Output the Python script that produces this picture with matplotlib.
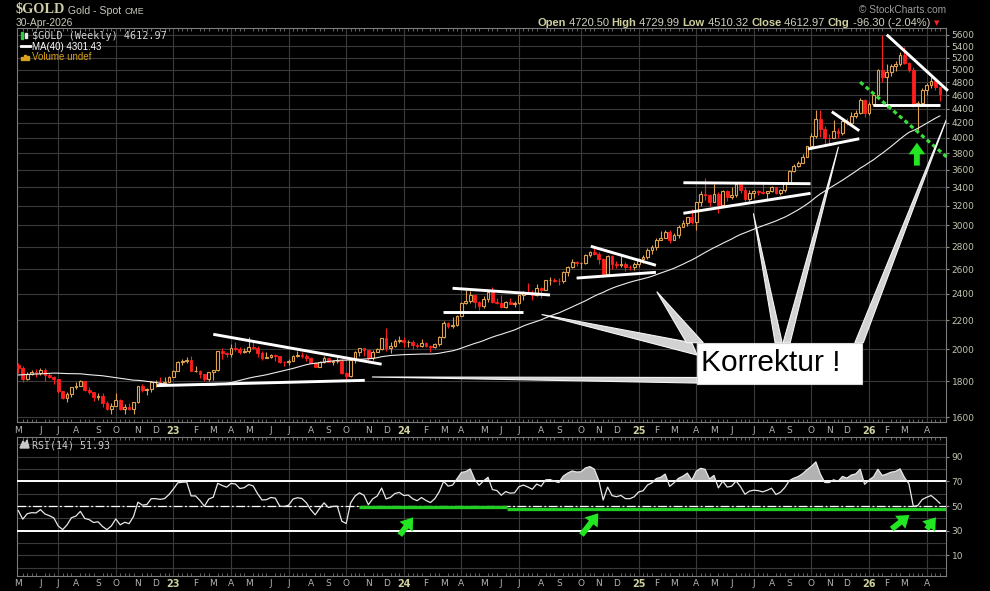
import numpy as np
import pandas as pd
import matplotlib
matplotlib.use('Agg')
import matplotlib.pyplot as plt
from matplotlib.patches import Rectangle, Polygon
from matplotlib.lines import Line2D
from matplotlib.ticker import NullFormatter, NullLocator, FixedLocator

plt.rcParams['font.family'] = ['DejaVu Sans']

W, H = 990, 591

# weekly bars (week starting monday)
week_start = '2022-05-02'
first_open = 1896

# closes Jul 2021 - Apr 2022, only used to warm up MA(40) and RSI(14)
pre_close = [1814, 1763, 1780, 1781, 1817, 1827, 1788, 1754, 1750, 1761,
             1757, 1768, 1793, 1783, 1818, 1864, 1846, 1788, 1783, 1782,
             1798, 1809, 1829, 1797, 1818, 1835, 1791, 1808, 1859, 1898,
             1889, 1966, 1988, 1921, 1958, 1925, 1946, 1974, 1931, 1896]

close = [1883, 1811, 1846, 1853, 1851, 1871, 1840, 1827, 1811, 1742,
         1703, 1727, 1766, 1775, 1802, 1747, 1737, 1712, 1716, 1675,
         1644, 1661, 1695, 1644, 1657, 1645, 1681, 1771, 1751, 1755,
         1797, 1797, 1793, 1798, 1824, 1865, 1920, 1926, 1928, 1865,
         1865, 1842, 1811, 1856, 1868, 1989, 1978, 1969, 2007, 2004,
         1983, 1990, 2017, 2011, 1977, 1946, 1948, 1961, 1958, 1921,
         1919, 1925, 1955, 1962, 1959, 1943, 1914, 1889, 1915, 1940,
         1919, 1924, 1925, 1849, 1833, 1933, 1981, 2006, 1993, 1940,
         1981, 2002, 2072, 2005, 2019, 2053, 2063, 2045, 2049, 2029,
         2018, 2039, 2024, 2013, 2036, 2083, 2179, 2155, 2165, 2233,
         2329, 2344, 2392, 2337, 2302, 2360, 2415, 2334, 2327, 2293,
         2333, 2322, 2326, 2392, 2411, 2400, 2387, 2443, 2431, 2507,
         2512, 2503, 2497, 2577, 2622, 2658, 2653, 2657, 2721, 2747,
         2736, 2685, 2563, 2715, 2643, 2633, 2648, 2622, 2621, 2640,
         2690, 2703, 2771, 2800, 2861, 2883, 2936, 2858, 2910, 2984,
         3023, 3085, 3037, 3237, 3327, 3319, 3240, 3325, 3204, 3357,
         3289, 3310, 3433, 3368, 3274, 3337, 3355, 3350, 3337, 3363,
         3398, 3336, 3371, 3448, 3586, 3643, 3685, 3760, 3886, 4018,
         4251, 4113, 4002, 4000, 4084, 4065, 4218, 4198, 4300, 4340,
         4530, 4330, 4470, 4600, 4985, 4880, 4960, 5060, 5100, 5250,
         5110, 5000, 4450, 4480, 4670, 4750, 4810, 4720.5, 4612.97]

high = [1910, 1890, 1858, 1870, 1874, 1879, 1879, 1847, 1831, 1814,
        1745, 1740, 1768, 1795, 1807, 1805, 1766, 1740, 1735, 1735,
        1688, 1675, 1730, 1698, 1672, 1675, 1682, 1775, 1787, 1760,
        1805, 1807, 1824, 1823, 1833, 1869, 1922, 1937, 1949, 1959,
        1891, 1870, 1846, 1858, 1870, 1990, 2009, 1980, 2032, 2048,
        2015, 2009, 2079, 2048, 2022, 1985, 1983, 1971, 1972, 1958,
        1925, 1935, 1963, 1987, 1982, 1970, 1948, 1916, 1924, 1953,
        1942, 1933, 1947, 1936, 1858, 1934, 1987, 2009, 2010, 1993,
        1993, 2008, 2075, 2146, 2047, 2071, 2088, 2079, 2062, 2061,
        2041, 2065, 2046, 2031, 2041, 2088, 2195, 2185, 2222, 2236,
        2331, 2432, 2418, 2392, 2346, 2378, 2422, 2450, 2364, 2388,
        2342, 2368, 2340, 2392, 2424, 2483, 2432, 2477, 2451, 2510,
        2531, 2528, 2529, 2586, 2625, 2685, 2672, 2664, 2732, 2758,
        2790, 2750, 2693, 2721, 2721, 2666, 2726, 2664, 2639, 2665,
        2697, 2726, 2786, 2817, 2882, 2942, 2955, 2956, 2930, 3004,
        3057, 3086, 3167, 3245, 3358, 3500, 3327, 3435, 3345, 3366,
        3365, 3403, 3446, 3452, 3398, 3365, 3374, 3375, 3439, 3363,
        3409, 3404, 3378, 3453, 3600, 3674, 3707, 3791, 3897, 4059,
        4380, 4381, 4162, 4046, 4245, 4132, 4227, 4264, 4353, 4380,
        4550, 4545, 4500, 4640, 5010, 5600, 5090, 5100, 5150, 5290,
        5380, 5120, 5040, 4510, 4700, 4790, 4880, 4850, 4729.99]

low = [1850, 1798, 1808, 1840, 1828, 1836, 1805, 1820, 1785, 1732,
       1697, 1680, 1711, 1754, 1771, 1745, 1728, 1689, 1691, 1654,
       1639, 1615, 1659, 1640, 1618, 1638, 1617, 1675, 1736, 1721,
       1739, 1765, 1773, 1785, 1797, 1823, 1862, 1897, 1911, 1861,
       1853, 1819, 1805, 1804, 1810, 1865, 1934, 1949, 1950, 1991,
       1969, 1975, 1977, 2008, 1952, 1932, 1941, 1940, 1925, 1912,
       1893, 1902, 1922, 1951, 1942, 1925, 1910, 1885, 1886, 1913,
       1915, 1901, 1913, 1846, 1810, 1828, 1912, 1954, 1953, 1932,
       1931, 1981, 1992, 1990, 1973, 2016, 2040, 2016, 2013, 2002,
       2010, 2016, 2015, 1984, 2009, 2024, 2077, 2146, 2146, 2158,
       2229, 2320, 2325, 2292, 2277, 2292, 2334, 2325, 2323, 2286,
       2286, 2316, 2293, 2318, 2352, 2393, 2353, 2383, 2364, 2425,
       2470, 2491, 2471, 2485, 2546, 2613, 2624, 2603, 2642, 2704,
       2725, 2643, 2536, 2561, 2605, 2613, 2614, 2583, 2596, 2596,
       2614, 2656, 2690, 2730, 2772, 2858, 2877, 2832, 2856, 2880,
       2982, 2999, 3015, 2957, 3194, 3260, 3202, 3240, 3121, 3190,
       3246, 3277, 3293, 3341, 3255, 3248, 3283, 3310, 3325, 3268,
       3348, 3330, 3312, 3351, 3436, 3578, 3628, 3682, 3759, 3885,
       3990, 4004, 3886, 3930, 3998, 4000, 4040, 4165, 4170, 4270,
       4325, 4280, 4310, 4440, 4590, 4800, 4410, 4900, 4980, 5060,
       5090, 4960, 4430, 4100, 4450, 4600, 4700, 4680, 4510.32]

price_ticks = [1600, 1800, 2000, 2200, 2400, 2600, 2800, 3000, 3200, 3400, 3600,
               3800, 4000, 4200, 4400, 4600, 4800, 5000, 5200, 5400, 5600]
rsi_ticks = [10, 30, 50, 70, 90]
rsi_grid = [0, 20, 40, 60, 80, 100]
month_letters = ['J', 'F', 'M', 'A', 'M', 'J', 'J', 'A', 'S', 'O', 'N', 'D']

# drawn trendlines: (bar0, price0, bar1, price1)
trend_lines = [(44.0, 2100, 82.0, 1904), (31.3, 1775, 78.2, 1806),
               (95.9, 2257, 113.8, 2257), (98.0, 2442, 120.0, 2389),
               (129.2, 2802, 143.9, 2633), (126.0, 2525, 143.9, 2573),
               (150.1, 3451, 178.8, 3440), (150.1, 3122, 178.8, 3333),
               (183.6, 4355, 189.8, 4092), (178.2, 3854, 189.8, 3986),
               (196.0, 5605, 209.8, 4665), (193.0, 4447, 208.0, 4447)]
green_trend = (190.0, 4800, 209.8, 3742)
main_arrow = (202.8, 3650, 202.8, 3935)
rsi_support = [(77.0, 49.0, 110.2, 49.0), (110.2, 47.9, 209.4, 47.9)]
rsi_arrows = [(86.1, 26.4, 89.1, 40.8), (127.1, 26.5, 130.9, 44.1),
              (197.1, 31.3, 201.1, 42.7), (205.0, 31.3, 207.1, 40.8)]

# "Korrektur !" call-out box and its pointers (tip, base1, base2)
box = (153.2, 1784, 190.3, 2043)
pointers = [((118.1, 2241), (152.0, 2043), (153.2, 1962)),
            ((144.1, 2415), (150.8, 2043), (154.6, 2043)),
            ((165.9, 3122), (170.8, 2043), (172.4, 2043)),
            ((185.1, 3883), (172.6, 2043), (174.2, 2043)),
            ((209.6, 4266), (188.8, 2043), (190.7, 2043)),
            ((79.8, 1826), (153.2, 1823), (153.2, 1790))]

n = len(close)
x = np.arange(n)
C = np.array(close, float)
O = np.r_[first_open, C[:-1]]
Hi = np.array(high, float)
Lo = np.array(low, float)
dates = pd.date_range(week_start, periods=n, freq='W-MON')

allc = pd.Series(pre_close + close, dtype=float)
ma40 = allc.rolling(40).mean().to_numpy()[len(pre_close):]
d = allc.diff()
gain = d.clip(lower=0).ewm(alpha=1 / 14, adjust=False).mean()
loss = (-d.clip(upper=0)).ewm(alpha=1 / 14, adjust=False).mean()
rsi = (100 - 100 / (1 + gain / loss)).to_numpy()[len(pre_close):]

tan = '#dca24e'
red = '#ff1e1e'
gridc = '#3a3a3a'
txtc = '#c4c4b0'
green = '#22e622'


def fx(px):
    return px / W


def fy(py):
    return 1 - py / H


fig = plt.figure(figsize=(W / 100, H / 100), dpi=100, facecolor='black')
ax = fig.add_axes([fx(16.5), fy(422.3), (946 - 16.5) / W, (422.3 - 28.3) / H])
ax2 = fig.add_axes([fx(16.5), fy(575.7), (946 - 16.5) / W, (575.7 - 436.7) / H])

month_pos = [i for i in range(n) if i == 0 or dates[i].month != dates[i - 1].month]
month_lbl = [('%02d' % (dates[i].year % 100)) if dates[i].month == 1 else month_letters[dates[i].month - 1]
             for i in month_pos]
quarter_pos = [i for i in month_pos if dates[i].month in (1, 4, 7, 10)]

for a in (ax, ax2):
    a.set_facecolor('black')
    for s in a.spines.values():
        s.set_color('#7c7c7c')
        s.set_linewidth(0.8)
    a.set_xlim(-0.41, 209.37)
    for q in quarter_pos:
        a.axvline(q, color=gridc, lw=0.8, zorder=0)
    a.set_xticks(month_pos)
    a.set_xticklabels(month_lbl)
    a.set_xticks(x, minor=True)
    a.tick_params(axis='x', which='major', length=0, pad=2.5, labelsize=6.5, labelcolor='#b4b4b4')
    a.tick_params(axis='x', which='minor', length=2, direction='in', color='#8a8a8a', width=0.5,
                  top=True, bottom=True)
    for lab, t in zip(a.get_xticklabels(), month_lbl):
        if t.isdigit():
            lab.set_color('#cfcfa0')
            lab.set_fontweight('bold')
            lab.set_fontsize(7)
    a.yaxis.tick_right()
    a.tick_params(axis='y', which='major', length=2.5, color='#8a8a8a', pad=1.5,
                  labelsize=6.5, labelcolor=txtc)

# price panel
ax.set_yscale('log')
ax.set_ylim(1574, 5724)
ax.yaxis.set_major_locator(FixedLocator(price_ticks))
ax.set_yticklabels([str(t) for t in price_ticks])
ax.yaxis.set_minor_locator(NullLocator())
ax.yaxis.set_minor_formatter(NullFormatter())
ax.grid(axis='y', color=gridc, lw=0.8, zorder=0)

up = C >= O
lo_b = np.minimum(O, C)
hi_b = np.maximum(O, C)
ax.vlines(x[up], Lo[up], Hi[up], color=tan, lw=0.8, zorder=2)
ax.vlines(x[~up], Lo[~up], Hi[~up], color=red, lw=0.8, zorder=2)
ax.bar(x[up], hi_b[up] - lo_b[up], bottom=lo_b[up], width=0.62, facecolor='black',
       edgecolor=tan, lw=0.8, zorder=3)
ax.bar(x[~up], hi_b[~up] - lo_b[~up], bottom=lo_b[~up], width=0.62, facecolor=red,
       edgecolor=red, lw=0.6, zorder=3)
ax.plot(x, ma40, color='#ececec', lw=0.8, zorder=3)

for x0, p0, x1, p1 in trend_lines:
    ax.plot([x0, x1], [p0, p1], color='white', lw=2.1, solid_capstyle='butt', zorder=5, clip_on=False)
ax.plot(green_trend[::2], green_trend[1::2], color='#3ddc3d', lw=2.3, dashes=(1.3, 1.0),
        zorder=5, clip_on=False)


def green_arrow(a, x0, y0, x1, y1):
    a.annotate('', xy=(x1, y1), xytext=(x0, y0),
               arrowprops=dict(arrowstyle='simple,head_length=0.6,head_width=0.85,tail_width=0.3',
                               fc=green, ec='none', shrinkA=0, shrinkB=0, mutation_scale=14),
               zorder=6)


green_arrow(ax, *main_arrow)

for tip, b1, b2 in pointers:
    ax.add_patch(Polygon([tip, b1, b2], closed=True, fc='#d2d2d2', ec='#f6f6f6', lw=0.8, zorder=6))
ax.add_patch(Rectangle((box[0], box[1]), box[2] - box[0], box[3] - box[1], fc='white',
                       ec='#d8d8d8', lw=0.8, zorder=7))
ax.text(box[0] + 0.9, 1909, 'Korrektur !', family='Liberation Sans', fontsize=21.5,
        color='black', va='center', ha='left', zorder=8)

# RSI panel
ax2.set_ylim(-6.5, 106.2)
ax2.set_yticks(rsi_ticks)
ax2.set_yticklabels([str(t) for t in rsi_ticks])
ax2.set_yticks(rsi_grid, minor=True)
ax2.tick_params(axis='y', which='minor', length=0)
ax2.grid(axis='y', which='both', color=gridc, lw=0.8, zorder=0)
ax2.fill_between(x, 70, rsi, where=rsi > 70, interpolate=True, color='#b2b2b2', lw=0, zorder=2)
ax2.axhline(70, color='white', lw=1.4, zorder=3)
ax2.axhline(30, color='white', lw=1.4, zorder=3)
ax2.axhline(50, color='white', lw=0.9, ls=(0, (7, 2, 1.5, 2)), zorder=3)
ax2.plot(x, rsi, color='#e8e8e8', lw=0.9, zorder=4)
for x0, r0, x1, r1 in rsi_support:
    ax2.plot([x0, x1], [r0, r1], color='#22cc22', lw=2.4, solid_capstyle='butt', zorder=5)
for ar in rsi_arrows:
    green_arrow(ax2, *ar)

# header and legends
rend = fig.canvas.get_renderer()


def text_row(px, py, parts):
    for s, kw in parts:
        t = fig.text(fx(px), fy(py), s, va='baseline', ha='left', **kw)
        px += t.get_window_extent(rend).width
    return px


lab_kw = dict(fontsize=8, weight='bold', color='#cfcfa0', family='Liberation Sans')
val_kw = dict(fontsize=8, color='#cfcfc0', family='Liberation Sans')
end = text_row(537, 26, [('Open', lab_kw), (' 4720.50 ', val_kw), ('High', lab_kw), (' 4729.99 ', val_kw),
                         ('Low', lab_kw), (' 4510.32 ', val_kw), ('Close', lab_kw), (' 4612.97 ', val_kw),
                         ('Chg', lab_kw), (' -96.30 (-2.04%)', val_kw)])
fig.text(fx(end + 7), fy(23), '\u25bc', color='#ff2020', fontsize=5, ha='center', va='center')
fig.text(fx(946), fy(13), '\u00a9 StockCharts.com', color='#9c9c9c', fontsize=7.3,
         family='Liberation Sans', ha='right', va='baseline')

text_row(16, 13.5, [('$GOLD', dict(fontsize=10.3, weight='bold', color='#cfcfa8', family='Liberation Serif')),
                    (' Gold - Spot ', dict(fontsize=7.6, color='#c8c8b8', family='Liberation Sans')),
                    ('CME', dict(fontsize=6.3, color='#c8c8b8', family='Liberation Sans'))])
fig.text(fx(16), fy(25.5), '30-Apr-2026', fontsize=7.4, color='#c8c8b8', family='Liberation Sans',
         va='baseline')

fig.text(fx(32), fy(39), '$GOLD (Weekly) 4612.97', fontsize=7.3, color='#d4d4d4',
         family='DejaVu Sans Mono', va='baseline')
fig.text(fx(32), fy(49.5), 'MA(40) 4301.43', fontsize=7, color='white', family='Liberation Sans',
         va='baseline')
fig.text(fx(32), fy(60.5), 'Volume undef', fontsize=7, color='#d9a21b', family='Liberation Sans',
         va='baseline')
fig.text(fx(32), fy(448), 'RSI(14) 51.93', fontsize=7.2, color='#cccccc', family='DejaVu Sans Mono',
         va='baseline')

icons = [Rectangle((fx(21), fy(38.5)), 2 / W, 6 / H, color='#2ecc40'),
         Rectangle((fx(24.5), fy(37.5)), 2 / W, 5 / H, color='#e8e8e8'),
         Rectangle((fx(21), fy(60)), 2 / W, 3 / H, color='#d9a21b'),
         Rectangle((fx(24), fy(60)), 2 / W, 5 / H, color='#d9a21b'),
         Rectangle((fx(27), fy(60)), 2 / W, 4 / H, color='#d9a21b'),
         Polygon([(fx(20), fy(448)), (fx(23), fy(441)), (fx(25), fy(444)), (fx(27), fy(440)),
                  (fx(29), fy(448))], closed=True, color='#c8c8c8')]
for p in icons:
    p.set_transform(fig.transFigure)
    fig.add_artist(p)
fig.add_artist(Line2D([fx(21), fx(30)], [fy(46), fy(46)], color='white', lw=2, transform=fig.transFigure))

fig.savefig('out.png', dpi=100, facecolor='black')
